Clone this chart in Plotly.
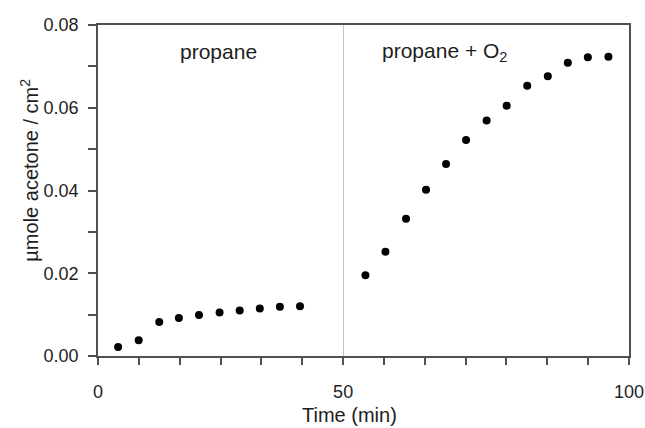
import plotly.graph_objects as go

# Data
left_time = [4.1, 8.3, 12.5, 16.5, 20.6, 24.8, 28.9, 33.0, 37.1, 41.2]
left_acetone = [0.0022, 0.0038, 0.0082, 0.0092, 0.0099, 0.0105, 0.0110, 0.0115, 0.0119, 0.0120]
right_time = [53.9, 57.4, 61.0, 64.5, 68.0, 71.5, 75.1, 78.6, 82.2, 85.8, 89.3, 92.8, 96.4]
right_acetone = [0.0195, 0.0252, 0.0332, 0.0402, 0.0464, 0.0522, 0.0569, 0.0605, 0.0653, 0.0676, 0.0709, 0.0722, 0.0723]

left_ticks = [50 / 6 * i for i in range(7)]
left_ticktext = ["0", "", "", "", "", "", "50"]
right_ticks = [50 + 50 / 7 * i for i in range(1, 8)]
right_ticktext = ["", "", "", "", "", "", "100"]

FONT = "Liberation Sans, Arial, sans-serif"
AX = "#505050"
TXT = "#1e1e1e"
PL, PR, PT, PB = 98.3, 629.0, 25.0, 356.0
split = (343.3 - PL) / (PR - PL)

fig = go.Figure()
fig.add_trace(go.Scatter(x=left_time, y=left_acetone, mode="markers",
                         marker=dict(color="black", size=8), xaxis="x", yaxis="y",
                         showlegend=False))
fig.add_trace(go.Scatter(x=right_time, y=right_acetone, mode="markers",
                         marker=dict(color="black", size=8), xaxis="x2", yaxis="y2",
                         showlegend=False))

fig.update_layout(
    width=645, height=428,
    margin=dict(l=PL, r=645 - PR, t=PT, b=428 - PB),
    paper_bgcolor="white", plot_bgcolor="white",
    font=dict(family=FONT, color=TXT, size=18),
    xaxis=dict(domain=[0, split], range=[0, 50], tickmode="array",
               tickvals=left_ticks, ticktext=left_ticktext,
               ticks="outside", ticklen=7, tickwidth=1.5, tickcolor=AX,
               showline=True, linecolor=AX, linewidth=1.5, mirror=True,
               showgrid=False, zeroline=False, ticklabelstandoff=12, automargin=False,
               tickfont=dict(size=18, color=TXT)),
    xaxis2=dict(domain=[split, 1], range=[50, 100], tickmode="array",
                tickvals=right_ticks, ticktext=right_ticktext,
                ticks="outside", ticklen=7, tickwidth=1.5, tickcolor=AX,
                showline=True, linecolor=AX, linewidth=1.5, mirror=True,
                showgrid=False, zeroline=False, anchor="y2", ticklabelstandoff=12,
                automargin=False, tickfont=dict(size=18, color=TXT)),
    yaxis=dict(range=[0, 0.08], dtick=0.02, tickformat=".2f",
               ticks="outside", ticklen=8, tickwidth=1.5, tickcolor=AX,
               minor=dict(dtick=0.01, ticks="outside", ticklen=8, tickwidth=1.5, tickcolor=AX),
               showline=True, linecolor=AX, linewidth=1.5,
               showgrid=False, zeroline=False, ticklabelstandoff=6, automargin=False,
               tickfont=dict(size=18, color=TXT)),
    yaxis2=dict(range=[0, 0.08], matches="y", anchor="x2", side="right",
                showticklabels=False, ticks="", automargin=False,
                showline=True, linecolor=AX, linewidth=1.5,
                showgrid=False, zeroline=False),
    shapes=[dict(type="line", xref="x2", yref="y2 domain", x0=50, x1=50, y0=0, y1=1,
                 line=dict(color="#b4b4b4", width=1.5))],
    annotations=[
        dict(text="propane", xref="x", yref="y", x=24.5, y=0.0735,
             showarrow=False, font=dict(size=21, color=TXT)),
        dict(text="propane + O<sub>2</sub>", xref="x2", yref="y2", x=67.8, y=0.0735,
             showarrow=False, font=dict(size=21, color=TXT)),
        dict(text="Time (min)", xref="paper", yref="paper",
             x=(350 - PL) / (PR - PL), y=(PB - 415) / (PB - PT),
             xanchor="center", yanchor="middle", showarrow=False,
             font=dict(size=20, color=TXT)),
        dict(text="µmole acetone / cm<sup>2</sup>", xref="paper", yref="paper",
             x=(29 - PL) / (PR - PL), y=(PB - 170) / (PB - PT), textangle=-90,
             xanchor="center", yanchor="middle", showarrow=False,
             font=dict(size=20, color=TXT)),
    ],
)

fig.write_html("out.html")
